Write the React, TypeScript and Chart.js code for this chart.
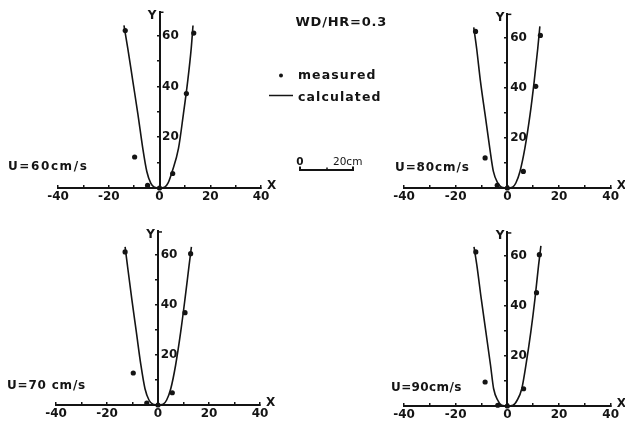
import React, { useEffect, useRef } from 'react';
import { Chart, registerables } from 'chart.js';

Chart.register(...registerables);

const W = 625;
const H = 423;
const INK = '#141414';
const FONT = '"DejaVu Sans", sans-serif';

// Tick labels
const xTickLabels = [-40, -20, 0, 20, 40];
const yTickLabels = [20, 40, 60];

// U = 60 cm/s
const u60CalcX = [-14.0, -12.5, -10.5, -8.5, -6.6, -5.0, -3.4, -2.0, 0, 2.0, 3.4, 5.0, 7.5, 9.4, 11.1, 12.5, 13.2];
const u60CalcY = [64, 55, 42, 29, 15.7, 6.5, 1.8, 0.3, 0, 0.3, 2.0, 6.5, 15.7, 29, 42, 55, 64];
const u60MeasX = [-13.5, -9.8, -4.7, 0, 5.2, 10.6, 13.5];
const u60MeasY = [62.0, 12.2, 1.0, 0, 5.7, 37.2, 61.0];

// U = 80 cm/s
const u80CalcX = [-13.0, -11.9, -10.4, -8.6, -6.8, -5.4, -3.7, -2.2, 0, 2.0, 3.3, 4.9, 6.8, 8.8, 10.4, 11.8, 12.6];
const u80CalcY = [64, 55.8, 42.5, 29.2, 15.9, 6.6, 2.0, 0.3, 0, 0.3, 2.0, 6.6, 15.9, 29.2, 42.5, 55.8, 64.4];
const u80MeasX = [-12.3, -8.6, -3.9, 0, 6.2, 11.0, 12.8];
const u80MeasY = [62.4, 12.0, 1.1, 0, 6.6, 40.5, 60.8];

// U = 70 cm/s
const u70CalcX = [-12.9, -12.0, -10.3, -8.5, -6.7, -5.1, -3.5, -2.0, 0, 2.0, 3.4, 5.0, 6.9, 8.9, 10.6, 12.2, 13.1];
const u70CalcY = [63.2, 55.9, 42.5, 29.2, 15.9, 6.5, 1.9, 0.3, 0, 0.3, 2.0, 6.5, 15.9, 29.2, 42.5, 55.9, 63.2];
const u70MeasX = [-12.9, -9.7, -4.4, 0, 5.6, 10.6, 12.8];
const u70MeasY = [61.2, 12.8, 0.8, 0, 4.9, 36.9, 60.5];

// U = 90 cm/s
const u90CalcX = [-12.9, -11.8, -10.1, -8.3, -6.5, -5.3, -3.7, -2.2, 0, 2.2, 3.8, 5.6, 7.2, 9.1, 10.7, 12.1, 13.0];
const u90CalcY = [63.6, 56.3, 42.9, 29.6, 16.3, 6.9, 2.3, 0.3, 0, 0.3, 2.3, 6.9, 16.3, 29.6, 42.9, 56.3, 64];
const u90MeasX = [-12.2, -8.6, -3.7, 0, 6.3, 11.3, 12.4];
const u90MeasY = [61.6, 9.6, 0.3, 0, 6.9, 45.3, 60.5];

const Y_MAX = 69.5;
// x value (data units) at which the Y tick labels end, so they sit to the right of the axis
const Y_LABEL_X = 7.6;

const PANELS = [
  { label: 'U=60cm/s', calcX: u60CalcX, calcY: u60CalcY, measX: u60MeasX, measY: u60MeasY,
    box: { left: 58, right: 261, top: 11.5, bottom: 188 }, lx: 8, ly: 170, ls: 1.6, central: true },
  { label: 'U=80cm/s', calcX: u80CalcX, calcY: u80CalcY, measX: u80MeasX, measY: u80MeasY,
    box: { left: 404, right: 612, top: 13.6, bottom: 188 }, lx: 395, ly: 171, ls: 0.9, central: false },
  { label: 'U=70 cm/s', calcX: u70CalcX, calcY: u70CalcY, measX: u70MeasX, measY: u70MeasY,
    box: { left: 56, right: 260, top: 231.2, bottom: 405 }, lx: 7, ly: 389, ls: 0.8, central: false },
  { label: 'U=90cm/s', calcX: u90CalcX, calcY: u90CalcY, measX: u90MeasX, measY: u90MeasY,
    box: { left: 404, right: 612, top: 232.2, bottom: 406 }, lx: 391, ly: 391, ls: 0.4, central: false },
];

const decorPlugin = {
  id: 'decor',
  afterDraw(chart: any, _args: any, opts: any) {
    const ctx = chart.ctx as CanvasRenderingContext2D;
    const xs = chart.scales.x;
    const ys = chart.scales.y;
    const x0 = xs.getPixelForValue(0);
    const yTop = ys.getPixelForValue(ys.max);
    const y0 = ys.getPixelForValue(0);
    ctx.save();
    ctx.strokeStyle = INK;
    ctx.fillStyle = INK;
    ctx.lineWidth = 1.5;
    // small hook at top of Y axis
    ctx.beginPath();
    ctx.moveTo(x0, yTop + 0.75);
    ctx.lineTo(x0 + 4, yTop + 0.75);
    ctx.stroke();
    ctx.font = `bold 12px ${FONT}`;
    ctx.textBaseline = 'alphabetic';
    ctx.textAlign = 'right';
    ctx.fillText('Y', x0 - 3, yTop + 7);
    ctx.textAlign = 'left';
    ctx.fillText('X', xs.right + 6, y0 + 1);
    (ctx as any).letterSpacing = opts.ls + 'px';
    ctx.fillText(opts.label, opts.lx, opts.ly);

    if (opts.central) {
      ctx.font = `bold 13px ${FONT}`;
      (ctx as any).letterSpacing = '0.75px';
      ctx.fillText('WD/HR=0.3', 295.5, 25.5);

      ctx.font = `bold 12.5px ${FONT}`;
      (ctx as any).letterSpacing = '1.1px';
      ctx.beginPath();
      ctx.arc(281, 75.5, 2, 0, Math.PI * 2);
      ctx.fill();
      ctx.fillText('measured', 298, 79);
      ctx.beginPath();
      ctx.moveTo(269, 95.5);
      ctx.lineTo(293, 95.5);
      ctx.stroke();
      ctx.fillText('calculated', 298, 100.5);

      // scale bar
      ctx.font = `bold 10.5px ${FONT}`;
      (ctx as any).letterSpacing = '0px';
      ctx.textAlign = 'center';
      ctx.fillText('0', 300, 165);
      ctx.textAlign = 'left';
      ctx.font = `10.5px ${FONT}`;
      ctx.fillText('20cm', 333, 165);
      ctx.lineWidth = 2;
      ctx.beginPath();
      ctx.moveTo(300, 166.5);
      ctx.lineTo(300, 170);
      ctx.lineTo(353, 170);
      ctx.lineTo(353, 166.5);
      ctx.stroke();
      ctx.lineWidth = 1.5;
      ctx.beginPath();
      ctx.moveTo(327, 167.5);
      ctx.lineTo(327, 170);
      ctx.stroke();
    }
    ctx.restore();
  },
};

function Panel({ p }: { p: (typeof PANELS)[number] }) {
  const ref = useRef<HTMLCanvasElement | null>(null);
  useEffect(() => {
    if (!ref.current) return;
    const b = p.box;
    const tickFont = { family: FONT, size: 12, weight: 'bold' as const };
    const chart = new Chart(ref.current, {
      type: 'scatter',
      data: {
        datasets: [
          {
            label: 'calculated',
            data: p.calcX.map((x, i) => ({ x, y: p.calcY[i] })),
            showLine: true,
            borderColor: INK,
            borderWidth: 1.6,
            pointRadius: 0,
            cubicInterpolationMode: 'monotone',
            fill: false,
            clip: false as any,
          } as any,
          {
            label: 'measured',
            data: p.measX.map((x, i) => ({ x, y: p.measY[i] })),
            pointRadius: 2.6,
            pointBackgroundColor: INK,
            pointBorderWidth: 0,
            clip: false as any,
          } as any,
        ],
      },
      options: {
        responsive: false,
        animation: false,
        events: [],
        layout: { padding: { left: b.left, right: W - b.right, top: b.top, bottom: H - b.bottom } },
        plugins: {
          legend: { display: false },
          tooltip: { enabled: false },
          decor: { label: p.label, lx: p.lx, ly: p.ly, ls: p.ls, central: p.central },
        } as any,
        scales: {
          x: {
            type: 'linear',
            min: -40,
            max: 40,
            position: { y: 0 } as any,
            grid: { drawOnChartArea: false, drawTicks: true, tickLength: -4, color: INK, lineWidth: 1.5 },
            border: { display: true, color: INK, width: 2 },
            ticks: {
              stepSize: 10,
              autoSkip: false,
              maxRotation: 0,
              includeBounds: false,
              padding: 6,
              color: INK,
              font: tickFont,
              callback: (v: any) => (xTickLabels.includes(Number(v)) ? String(v) : ''),
            },
          },
          y: {
            type: 'linear',
            min: 0,
            max: Y_MAX,
            position: { x: 0 } as any,
            grid: { drawOnChartArea: false, drawTicks: true, tickLength: 2, color: INK, lineWidth: 1.5 },
            border: { display: true, color: INK, width: 2 },
            ticks: { stepSize: 10, autoSkip: false, includeBounds: false, padding: 0, display: false },
          },
          yLab: {
            type: 'linear',
            axis: 'y',
            min: 0,
            max: Y_MAX,
            position: { x: Y_LABEL_X } as any,
            grid: { display: false },
            border: { display: false },
            ticks: {
              stepSize: 10,
              autoSkip: false,
              includeBounds: false,
              padding: 0,
              color: INK,
              font: tickFont,
              callback: (v: any) => (yTickLabels.includes(Number(v)) ? String(v) : ''),
            },
          } as any,
        },
      },
      plugins: [decorPlugin as any],
    });
    return () => chart.destroy();
  }, [p]);
  return (
    <canvas
      ref={ref}
      width={W}
      height={H}
      style={{ position: 'absolute', left: 0, top: 0, width: W, height: H }}
    />
  );
}

export default function App() {
  return (
    <div style={{ position: 'absolute', left: 0, top: 0, width: W, height: H, background: '#fff', overflow: 'hidden' }}>
      {PANELS.map((p) => (
        <Panel key={p.label} p={p} />
      ))}
    </div>
  );
}
